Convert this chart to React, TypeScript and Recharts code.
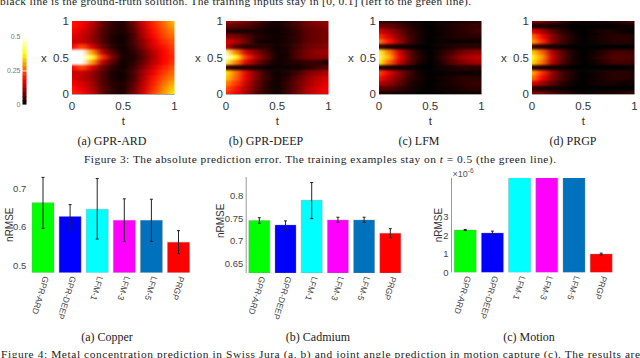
import { BarChart, Bar, Cell, ErrorBar, ScatterChart, Scatter, XAxis, YAxis, ReferenceLine } from "recharts";

// error maps, rows run from x = 1 (top) to x = 0, columns from t = 0 to t = 1
const gprArdGrid = [
  [0.2, 0.19, 0.14, 0.07, 0.03, 0.02, 0.08, 0.16, 0.22, 0.27, 0.33],
  [0.2, 0.18, 0.13, 0.07, 0.03, 0.02, 0.07, 0.15, 0.21, 0.26, 0.31],
  [0.19, 0.16, 0.12, 0.06, 0.03, 0.02, 0.06, 0.14, 0.2, 0.25, 0.29],
  [0.17, 0.15, 0.11, 0.06, 0.02, 0.01, 0.05, 0.13, 0.19, 0.24, 0.27],
  [0.15, 0.15, 0.11, 0.06, 0.02, 0.01, 0.05, 0.11, 0.17, 0.22, 0.25],
  [0.18, 0.24, 0.16, 0.08, 0.03, 0.01, 0.04, 0.1, 0.16, 0.2, 0.24],
  [0.58, 0.5, 0.3, 0.14, 0.06, 0.01, 0.03, 0.08, 0.14, 0.19, 0.23],
  [0.6, 0.58, 0.4, 0.22, 0.09, 0.02, 0.02, 0.07, 0.13, 0.19, 0.22],
  [0.58, 0.5, 0.3, 0.14, 0.06, 0.01, 0.03, 0.08, 0.14, 0.19, 0.23],
  [0.18, 0.24, 0.16, 0.08, 0.03, 0.01, 0.04, 0.1, 0.16, 0.21, 0.25],
  [0.15, 0.15, 0.11, 0.06, 0.02, 0.01, 0.05, 0.12, 0.18, 0.23, 0.27],
  [0.16, 0.14, 0.11, 0.06, 0.02, 0.01, 0.05, 0.13, 0.2, 0.25, 0.29],
  [0.18, 0.16, 0.12, 0.06, 0.03, 0.02, 0.06, 0.14, 0.21, 0.27, 0.32],
  [0.2, 0.17, 0.13, 0.07, 0.03, 0.02, 0.07, 0.15, 0.22, 0.29, 0.34],
  [0.21, 0.19, 0.14, 0.07, 0.03, 0.02, 0.08, 0.16, 0.24, 0.3, 0.36],
];
const gprDeepGrid = [
  [0.12, 0.11, 0.09, 0.06, 0.03, 0.01, 0.03, 0.06, 0.09, 0.1, 0.11],
  [0.08, 0.07, 0.06, 0.04, 0.02, 0.01, 0.03, 0.05, 0.08, 0.09, 0.1],
  [0.03, 0.02, 0.02, 0.02, 0.01, 0.01, 0.02, 0.04, 0.07, 0.08, 0.09],
  [0.1, 0.09, 0.06, 0.03, 0.02, 0.01, 0.02, 0.04, 0.07, 0.08, 0.09],
  [0.16, 0.13, 0.08, 0.02, 0.01, 0.01, 0.02, 0.04, 0.07, 0.08, 0.09],
  [0.15, 0.06, 0.03, 0.03, 0.03, 0.01, 0.02, 0.05, 0.08, 0.09, 0.1],
  [0.45, 0.28, 0.15, 0.1, 0.05, 0.01, 0.02, 0.06, 0.09, 0.11, 0.12],
  [0.55, 0.38, 0.22, 0.13, 0.07, 0.01, 0.02, 0.06, 0.09, 0.1, 0.1],
  [0.42, 0.28, 0.16, 0.09, 0.04, 0.01, 0.02, 0.03, 0.04, 0.04, 0.02],
  [0.05, 0.03, 0.02, 0.02, 0.01, 0.01, 0.01, 0.01, 0.03, 0.05, 0.07],
  [0.36, 0.27, 0.17, 0.09, 0.03, 0.01, 0.02, 0.05, 0.09, 0.11, 0.13],
  [0.34, 0.26, 0.17, 0.09, 0.04, 0.01, 0.03, 0.07, 0.11, 0.14, 0.16],
  [0.29, 0.23, 0.15, 0.08, 0.03, 0.01, 0.04, 0.08, 0.12, 0.15, 0.17],
  [0.25, 0.2, 0.13, 0.07, 0.03, 0.01, 0.04, 0.08, 0.13, 0.16, 0.18],
  [0.22, 0.18, 0.12, 0.06, 0.03, 0.01, 0.04, 0.09, 0.13, 0.16, 0.18],
];
const lfmGrid = [
  [0.03, 0.03, 0.02, 0.01, 0.01, 0, 0.01, 0.01, 0.02, 0.02, 0.03],
  [0.08, 0.07, 0.05, 0.03, 0.01, 0, 0.01, 0.02, 0.03, 0.04, 0.04],
  [0.16, 0.12, 0.08, 0.04, 0.02, 0, 0.01, 0.02, 0.03, 0.04, 0.05],
  [0.22, 0.16, 0.1, 0.05, 0.02, 0, 0.01, 0.02, 0.03, 0.03, 0.03],
  [0.28, 0.2, 0.12, 0.05, 0.02, 0, 0.01, 0.01, 0.01, 0.01, 0.01],
  [0.05, 0.02, 0.01, 0.01, 0, 0, 0.01, 0.02, 0.03, 0.03, 0.03],
  [0.4, 0.28, 0.16, 0.07, 0.02, 0, 0.02, 0.05, 0.08, 0.1, 0.1],
  [0.42, 0.32, 0.18, 0.08, 0.03, 0, 0.03, 0.07, 0.11, 0.13, 0.14],
  [0.38, 0.26, 0.15, 0.07, 0.02, 0, 0.02, 0.06, 0.09, 0.11, 0.12],
  [0.04, 0.02, 0.01, 0.01, 0, 0, 0.01, 0.02, 0.03, 0.03, 0.03],
  [0.24, 0.17, 0.1, 0.05, 0.01, 0, 0, 0.01, 0.01, 0.01, 0.01],
  [0.2, 0.14, 0.09, 0.04, 0.02, 0, 0.01, 0.02, 0.03, 0.03, 0.03],
  [0.14, 0.11, 0.07, 0.03, 0.01, 0, 0.01, 0.02, 0.03, 0.04, 0.04],
  [0.07, 0.06, 0.04, 0.02, 0.01, 0, 0.01, 0.01, 0.02, 0.03, 0.03],
  [0.02, 0.02, 0.01, 0.01, 0, 0, 0, 0.01, 0.01, 0.01, 0.01],
];
const prgpGrid = [
  [0.1, 0.09, 0.07, 0.04, 0.02, 0.01, 0.01, 0.02, 0.03, 0.04, 0.06],
  [0.02, 0.02, 0.01, 0.01, 0, 0, 0, 0, 0, 0.01, 0.01],
  [0.17, 0.12, 0.07, 0.03, 0.01, 0, 0.01, 0.02, 0.02, 0.01, 0],
  [0.27, 0.19, 0.1, 0.05, 0.02, 0, 0.01, 0.02, 0.03, 0.03, 0.02],
  [0.31, 0.22, 0.1, 0.05, 0.02, 0, 0.01, 0.02, 0.03, 0.03, 0.02],
  [0.05, 0.03, 0.01, 0.01, 0, 0, 0, 0, 0, 0, 0],
  [0.34, 0.26, 0.13, 0.06, 0.02, 0, 0.01, 0.03, 0.05, 0.05, 0.04],
  [0.4, 0.3, 0.15, 0.07, 0.02, 0, 0.02, 0.04, 0.06, 0.06, 0.05],
  [0.36, 0.27, 0.13, 0.06, 0.02, 0, 0.01, 0.03, 0.05, 0.05, 0.04],
  [0.04, 0.02, 0.01, 0.01, 0, 0, 0, 0, 0, 0, 0],
  [0.32, 0.22, 0.11, 0.05, 0.02, 0, 0.01, 0.02, 0.03, 0.03, 0.02],
  [0.28, 0.19, 0.1, 0.05, 0.02, 0, 0.01, 0.02, 0.03, 0.03, 0.02],
  [0.17, 0.12, 0.07, 0.03, 0.01, 0, 0.01, 0.02, 0.02, 0.01, 0.01],
  [0.03, 0.02, 0.01, 0.01, 0, 0, 0, 0, 0, 0, 0],
  [0.1, 0.09, 0.06, 0.04, 0.02, 0.01, 0.01, 0.02, 0.02, 0.03, 0.04],
];
const colorbarLevels = [0.02, 0.05, 0.08, 0.11, 0.14, 0.17, 0.2, 0.23, 0.27, 0.3, 0.33, 0.36, 0.39, 0.42, 0.45, 0.48];

const methods = ["GPR-ARD", "GPR-DEEP", "LFM-1", "LFM-3", "LFM-5", "PRGP"];
const barColors = ["#00ff00", "#0000ff", "#00ffff", "#ff00ff", "#0072bd", "#ff0000"];

const copperValues = [0.663, 0.627, 0.646, 0.617, 0.617, 0.56];
const copperLow = [0.596, 0.595, 0.568, 0.562, 0.562, 0.53];
const copperHigh = [0.729, 0.658, 0.726, 0.673, 0.672, 0.59];

const cadmiumValues = [0.745, 0.735, 0.789, 0.746, 0.746, 0.717];
const cadmiumLow = [0.739, 0.724, 0.749, 0.741, 0.741, 0.707];
const cadmiumHigh = [0.751, 0.744, 0.828, 0.752, 0.752, 0.727];

// in units of 1e-6, the three LFM bars run off the top of the axis
const motionValues = [2.29, 2.13, 6, 6, 6, 0.99];
const motionLow = [2.26, 2.03, 6, 6, 6, 0.94];
const motionHigh = [2.32, 2.23, 6, 6, 6, 1.04];

const SANS = "'Liberation Sans', Arial, sans-serif";
const SERIF = "'Liberation Serif', 'Times New Roman', serif";

const HEAT_W = 102.5;
const HEAT_H = 73;
const HEAT_AXIS_W = 40;
const HEAT_TOP = 6;

function hot(v: number) {
  const f = Math.min(1, Math.max(0, v / 0.5));
  const r = Math.min(1, f / 0.375);
  const g = Math.min(1, Math.max(0, (f - 0.375) / 0.375));
  const b = Math.min(1, Math.max(0, (f - 0.75) / 0.25));
  return `rgb(${Math.round(r * 255)},${Math.round(g * 255)},${Math.round(b * 255)})`;
}

function gridPoints(grid: number[][]) {
  const pts: { t: number; x: number; v: number }[] = [];
  grid.forEach((row, r) =>
    row.forEach((v, c) => {
      pts.push({ t: c / (row.length - 1), x: 1 - r / (grid.length - 1), v });
    })
  );
  return pts;
}

function HeatCell(props: any) {
  const { cx, cy, payload } = props;
  const w = HEAT_W / 10;
  const h = HEAT_H / 14;
  // edge cells run past the plot so the blur does not fade at the border
  const left = payload.t === 0 ? 12 : w / 2;
  const right = payload.t === 1 ? 12 : w / 2;
  const top = payload.x === 1 ? 10 : h / 2;
  const bottom = payload.x === 0 ? 10 : h / 2;
  return (
    <rect
      x={cx - left - 0.3}
      y={cy - top - 0.3}
      width={left + right + 0.6}
      height={top + bottom + 0.6}
      fill={hot(payload.v)}
    />
  );
}

function Heatmap({ grid, left }: { grid: number[][]; left: number }) {
  return (
    <div style={{ position: "absolute", left: left - HEAT_AXIS_W, top: 21 - HEAT_TOP }}>
      <ScatterChart
        width={HEAT_AXIS_W + HEAT_W + 8}
        height={HEAT_TOP + HEAT_H + 34}
        margin={{ top: HEAT_TOP, right: 8, bottom: 0, left: 0 }}
      >
        <XAxis
          type="number"
          dataKey="t"
          domain={[0, 1]}
          ticks={[0, 0.5, 1]}
          height={34}
          tickLine={false}
          tickSize={0}
          tickMargin={8}
          axisLine={{ stroke: "#555" }}
          tick={{ fontSize: 11.5, fontFamily: SANS, fill: "#333" }}
          interval={0}
          label={{ value: "t", position: "insideBottom", offset: 3, fontSize: 11.5, fontFamily: SANS, fill: "#333" }}
        />
        <YAxis
          type="number"
          dataKey="x"
          domain={[0, 1]}
          ticks={[0, 0.5, 1]}
          width={HEAT_AXIS_W}
          tickLine={false}
          tickSize={0}
          tickMargin={3}
          axisLine={false}
          tick={{ fontSize: 11.5, fontFamily: SANS, fill: "#333" }}
          interval={0}
          label={{ value: "x", position: "insideLeft", offset: 9, dy: 0, fontSize: 11.5, fontFamily: SANS, fill: "#333" }}
        />
        <Scatter data={gridPoints(grid)} shape={HeatCell} isAnimationActive={false} />
        <ReferenceLine x={0.5} stroke="#00c000" strokeWidth={1} strokeDasharray="3 1" />
      </ScatterChart>
    </div>
  );
}

function ColorbarCell(props: any) {
  const h = 68 / colorbarLevels.length;
  return <rect x={props.cx - 2} y={props.cy - h / 2 - 0.2} width={4} height={h + 0.4} fill={hot(props.payload.v)} />;
}

function Colorbar() {
  const data = colorbarLevels.map((v) => ({ t: 0.5, x: v, v }));
  return (
    <div className="colorbar" style={{ position: "absolute", left: 0, top: 32 }}>
      <ScatterChart width={30} height={78} margin={{ top: 5, right: 3.5, bottom: 5, left: 0 }}>
        <XAxis type="number" dataKey="t" domain={[0, 1]} hide />
        <YAxis
          type="number"
          dataKey="x"
          domain={[0, 0.5]}
          ticks={[0, 0.25, 0.5]}
          width={22.5}
          tickLine={false}
          tickSize={0}
          tickMargin={2}
          axisLine={false}
          interval={0}
          tick={{ fontSize: 7, fontFamily: SANS, fill: "#777" }}
        />
        <Scatter data={data} shape={ColorbarCell} isAnimationActive={false} />
      </ScatterChart>
    </div>
  );
}

function MethodTick(props: any) {
  const { x, y, payload } = props;
  return (
    <text
      transform={`translate(${x + 0.5},${y + 3}) rotate(107)`}
      fontSize={8.5}
      fontFamily={SANS}
      fill="#444"
      textAnchor="start"
    >
      {payload.value}
    </text>
  );
}

type BarPanelProps = {
  values: number[];
  low: number[];
  high: number[];
  domain: [number, number];
  ticks: number[];
  plotLeft: number;
  plotWidth: number;
  plotTop: number;
  labelX: number;
  labelDy: number;
  showAxis: boolean;
};

function BarPanel({ values, low, high, domain, ticks, plotLeft, plotWidth, plotTop, labelX, labelDy, showAxis }: BarPanelProps) {
  const data = methods.map((name, i) => ({
    name,
    value: values[i],
    err: [values[i] - low[i], high[i] - values[i]],
  }));
  const wrapLeft = labelX - 8;
  return (
    <div style={{ position: "absolute", left: wrapLeft, top: plotTop - 2 }}>
      <BarChart
        width={plotLeft - wrapLeft + plotWidth + 4}
        height={2 + (272.7 - plotTop) + 60}
        data={data}
        margin={{ top: 2, right: 4, bottom: 0, left: 0 }}
        barCategoryGap="10%"
      >
        <XAxis
          dataKey="name"
          height={60}
          interval={0}
          tickLine={false}
          tickSize={0}
          tickMargin={0}
          axisLine={false}
          tick={<MethodTick />}
        />
        <YAxis
          type="number"
          domain={domain}
          ticks={ticks}
          allowDataOverflow
          width={plotLeft - wrapLeft}
          tickLine={false}
          tickSize={0}
          tickMargin={3}
          interval={0}
          axisLine={showAxis ? { stroke: "#999" } : false}
          tick={{ fontSize: 9.5, fontFamily: SANS, fill: "#444" }}
          label={{
            value: "nRMSE",
            angle: -90,
            position: "insideLeft",
            offset: 8,
            dy: labelDy,
            fontSize: 10,
            fontFamily: SANS,
            fill: "#333",
          }}
        />
        <Bar dataKey="value" isAnimationActive={false} stroke="#888" strokeWidth={0.6} strokeOpacity={0.6}>
          {methods.map((m, i) => (
            <Cell key={m} fill={barColors[i]} />
          ))}
          <ErrorBar dataKey="err" width={1.5} strokeWidth={1} stroke="#222" isAnimationActive={false} />
        </Bar>
      </BarChart>
    </div>
  );
}

function Captions() {
  const cap = { fontFamily: SERIF, fontSize: 11.4, fill: "#222" };
  const sub = { fontFamily: SERIF, fontSize: 12, fill: "#222", textAnchor: "middle" as const };
  return (
    <svg width={640} height={358} style={{ position: "absolute", left: 0, top: 0 }}>
      <text x={0} y={5} {...cap} textLength={471} lengthAdjust="spacing">
        black line is the ground-truth solution. The training inputs stay in [0, 0.1] (left to the green line).
      </text>
      <text x={112} y={145} {...sub}>(a) GPR-ARD</text>
      <text x={266} y={145} {...sub}>(b) GPR-DEEP</text>
      <text x={419} y={145} {...sub}>(c) LFM</text>
      <text x={573} y={145} {...sub}>(d) PRGP</text>
      <text x={84} y={163} {...cap} textLength={472} lengthAdjust="spacing">
        Figure 3: The absolute prediction error. The training examples stay on <tspan fontStyle="italic">t</tspan> = 0.5 (the green line).
      </text>
      <text x={107} y={340.5} {...sub}>(a) Copper</text>
      <text x={318} y={340.5} {...sub}>(b) Cadmium</text>
      <text x={529} y={340.5} {...sub}>(c) Motion</text>
      <text x={1} y={358} {...cap} textLength={639} lengthAdjust="spacing">
        Figure 4: Metal concentration prediction in Swiss Jura (a, b) and joint angle prediction in motion capture (c). The results are
      </text>
      <text x={452.5} y={176.7} fontFamily={SANS} fontSize={9} fill="#555">
        ×10
        <tspan dy={-4} fontSize={6.5}>-6</tspan>
      </text>
    </svg>
  );
}

export default function App() {
  return (
    <div style={{ position: "fixed", left: 0, top: 0, width: 640, height: 358, overflow: "hidden", background: "#fff" }}>
      <style>{`
        .heat .recharts-scatter { filter: url(#heatBlur); clip-path: url(#heatClip); }
      `}</style>
      <svg width={0} height={0} style={{ position: "absolute" }}>
        <defs>
          <filter id="heatBlur" x="-20%" y="-20%" width="140%" height="140%" colorInterpolationFilters="sRGB">
            <feGaussianBlur stdDeviation="3.6 1.1" />
          </filter>
          <clipPath id="heatClip">
            <rect x={HEAT_AXIS_W} y={HEAT_TOP} width={HEAT_W} height={HEAT_H} />
          </clipPath>
        </defs>
      </svg>
      <Colorbar />
      <div className="heat">
        <Heatmap grid={gprArdGrid} left={71.5} />
        <Heatmap grid={gprDeepGrid} left={226} />
        <Heatmap grid={lfmGrid} left={378.7} />
        <Heatmap grid={prgpGrid} left={532.3} />
      </div>
      <BarPanel
        values={copperValues}
        low={copperLow}
        high={copperHigh}
        domain={[0.48, 0.73]}
        ticks={[0.5, 0.6, 0.7]}
        plotLeft={29.6}
        plotWidth={162.6}
        plotTop={176.9}
        labelX={9.3}
        labelDy={17}
        showAxis={false}
      />
      <BarPanel
        values={cadmiumValues}
        low={cadmiumLow}
        high={cadmiumHigh}
        domain={[0.63, 0.84]}
        ticks={[0.65, 0.7, 0.75, 0.8]}
        plotLeft={246.2}
        plotWidth={157.2}
        plotTop={176.7}
        labelX={220}
        labelDy={13}
        showAxis
      />
      <BarPanel
        values={motionValues}
        low={motionLow}
        high={motionHigh}
        domain={[0, 5.1]}
        ticks={[0, 1, 2, 3]}
        plotLeft={451.2}
        plotWidth={163.2}
        plotTop={178.3}
        labelX={437.7}
        labelDy={17}
        showAxis
      />
      <Captions />
    </div>
  );
}
